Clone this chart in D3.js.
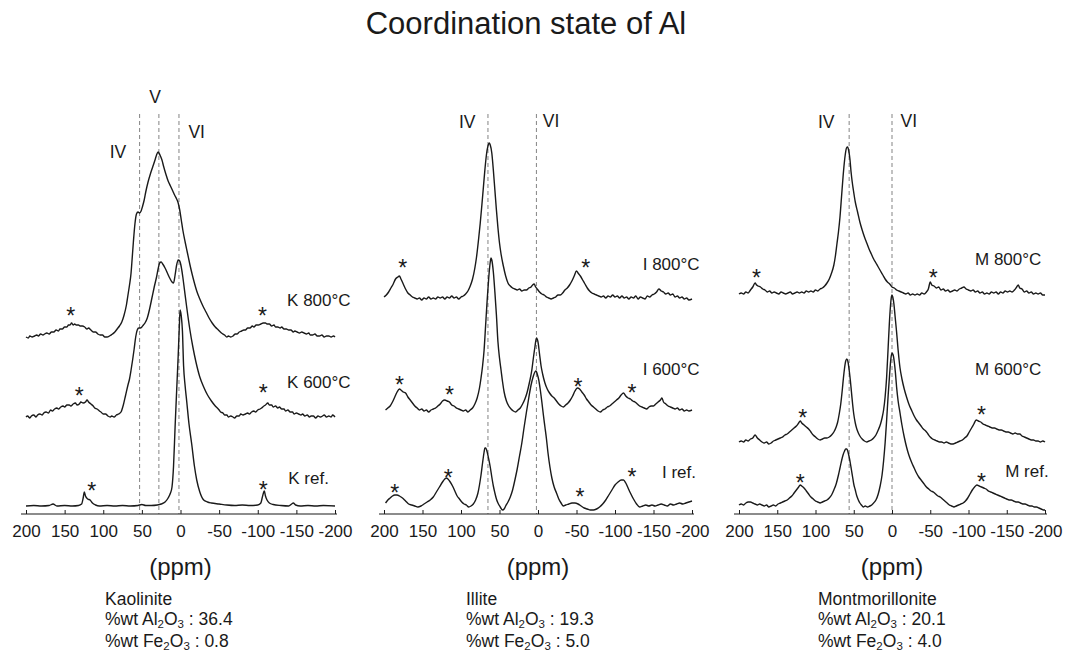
<!DOCTYPE html>
<html><head><meta charset="utf-8">
<script src="https://cdn.jsdelivr.net/npm/d3@7"></script>
<style>
body{margin:0;background:#fff}
svg{display:block}
text{font-family:"Liberation Sans",Arial,Helvetica,sans-serif;fill:#1a1a1a}
</style>
</head><body>
<svg id="chart" width="1067" height="655"></svg>
<script>
// ---------------- DATA ----------------
const title = "Coordination state of Al";
const tickValues = [200,150,100,50,0,-50,-100,-150,-200];
const axisLabel = "(ppm)";
const minerals = ["Kaolinite","Illite","Montmorillonite"];
const al2o3 = ["36.4","19.3","20.1"];
const fe2o3 = ["0.8","5.0","4.0"];
const spectrumNames = [["K 800°C","K 600°C","K ref."],["I 800°C","I 600°C","I ref."],["M 800°C","M 600°C","M ref."]];
// coordination lines (ppm) and labels
const siteLines = [[53,28,2],[65,2],[56,0]];
const siteLabels = [["IV","V","VI"],["IV","VI"],["IV","VI"]];
const siteLabelAt = [[[81,362],[33,417],[-21,382]],[[92,392],[-17,393]],[[86,392],[-22,393]]];
// stacking offsets (intensity units)
const stackOffsets = [[177,97,8],[216,104,9],[222,72,9]];
// label anchors [ppm, level]
const nameAt = [[[-138,208],[-138,126],[-139.5,30]],[[-136,244],[-136,139],[-161,36]],[[-108.5,249],[-108.5,139],[-148,37]]];
// spinning sideband markers [ppm, level]
const sidebands = [
  [[142,203],[-106,203],[131,123],[-107,126],[115,28],[-107,29]],
  [[175.7,251],[-62,251],[180,134],[115,124],[-52,132],[-122,126],[186,26],[116.5,41],[-54.5,22],[-122,42]],
  [[177,241],[-54,241],[116.7,101],[-117,104],[120,36],[-117,37]]
];

// spectra: [ppm, intensity]
const kaolinite800 = [[200,0],[197,-1],[195,1],[192,0],[189,1],[186,2],[184,1],[181,3],[178,2],[176,3],[173,4],[170,3],[167,5],[164,5],[161,7],[158,6],[156,8],[153,8],[150,10],[147,10],[145,12],[143,12],[141,14],[139,12],[137,13],[135,12],[132,12],[130,11],[127,11],[124,10],[121,8],[119,9],[116,7],[113,5],[110,5],[107,3],[104,2],[101,2],[98,0],[95,0],[92,1],[88,3],[85,5],[82,8],[79,11],[76,15],[73,22],[70,32],[68,42],[66,52],[64,64],[63,74],[61,95],[59,113],[57,123],[55,125],[53,124],[51,126],[49,131],[47,137],[45,145],[42,155],[39,163],[36,170],[33,177],[31,182],[29,185],[28,184],[26,181],[24,177],[22,171],[19,163],[16,156],[13,151],[10,146],[7,141],[5,138],[3,134],[1,127],[-1,117],[-3,107],[-6,95],[-9,84],[-12,73],[-15,63],[-18,54],[-21,46],[-25,38],[-29,31],[-33,25],[-37,19],[-41,14],[-45,10],[-49,7],[-53,4],[-57,2],[-60,0],[-62,1],[-65,0],[-68,1],[-71,3],[-73,3],[-76,5],[-79,6],[-82,7],[-84,7],[-87,9],[-90,9],[-93,11],[-95,10],[-98,12],[-101,12],[-104,13],[-107,14],[-110,14],[-112,13],[-115,13],[-118,11],[-121,12],[-123,10],[-126,10],[-129,9],[-131,10],[-134,8],[-137,8],[-140,7],[-143,7],[-146,5],[-148,6],[-151,5],[-154,4],[-157,5],[-160,4],[-163,3],[-166,4],[-168,2],[-171,2],[-174,3],[-177,1],[-180,1],[-183,2],[-186,0],[-189,1],[-192,1],[-195,0],[-198,1],[-200,0]];
const kaolinite600 = [[200,0],[198,1],[195,-1],[193,1],[190,2],[187,0],[185,2],[182,3],[179,2],[177,4],[174,5],[171,4],[168,7],[166,6],[163,8],[160,9],[158,8],[155,10],[152,11],[150,10],[147,12],[144,12],[142,11],[139,13],[136,14],[134,12],[131,13],[129,15],[126,14],[123,15],[121,17],[119,15],[116,13],[113,11],[111,9],[108,8],[105,6],[103,5],[100,3],[97,3],[94,1],[91,0],[89,1],[86,0],[83,2],[80,3],[77,5],[74,12],[71,22],[68,32],[66,38],[64,47],[62,57],[60,68],[58,80],[56,87],[54,89],[52,89],[50,90],[48,92],[46,94],[43,99],[40,108],[37,119],[34,130],[31,140],[29,148],[27,154],[25,155],[23,153],[20,149],[17,144],[14,139],[11,135],[9,134],[7,142],[5,152],[3,157],[1,156],[-1,150],[-3,140],[-5,128],[-8,110],[-12,88],[-16,70],[-20,55],[-25,40],[-30,30],[-35,22],[-40,16],[-45,11],[-50,7],[-52,5],[-55,4],[-57,2],[-60,2],[-62,0],[-65,1],[-68,0],[-70,-1],[-73,1],[-76,1],[-78,3],[-81,2],[-84,3],[-87,4],[-89,3],[-92,5],[-95,6],[-97,5],[-100,7],[-103,8],[-105,9],[-108,11],[-110,12],[-113,14],[-115,12],[-118,12],[-120,10],[-123,11],[-126,9],[-128,10],[-131,8],[-134,8],[-136,6],[-139,7],[-142,5],[-145,5],[-147,3],[-150,4],[-153,3],[-156,2],[-158,3],[-161,1],[-164,2],[-167,0],[-169,1],[-172,1],[-175,-1],[-178,1],[-181,0],[-184,1],[-186,2],[-189,0],[-192,1],[-195,0],[-197,2],[-200,0]];
const kaoliniteRef = [[200,0],[190,0.5],[180,0],[170,0.5],[165,2],[160,0],[150,0.5],[140,0],[132,0.5],[128,2],[126,8],[124.5,14],[123,10],[120,7],[117,6],[114,3],[110,1],[105,0],[95,0.5],[85,0],[75,0.5],[65,0],[55,0.5],[50,1.5],[45,0.5],[38,0.5],[30,1],[25,2],[20,4],[16,8],[13,13],[11,19],[9,40],[7,79],[5,115],[3,150],[1.5,180],[0.5,196],[-1,190],[-2.5,175],[-4,140],[-6,120],[-8,105],[-11,82],[-14.5,62],[-18,40],[-21,26],[-25,14],[-30,6],[-35,4],[-40,3],[-50,2],[-60,1],[-70,0.5],[-80,1],[-90,0.5],[-100,1],[-104,3],[-106,9],[-108.5,15],[-110,10],[-112,6],[-115,3],[-120,1.5],[-130,0.5],[-140,0],[-144,2],[-146,3],[-149,1],[-155,0],[-165,0.5],[-175,0],[-185,0.5],[-200,0]];
const illite800 = [[200,1],[197,3],[194,6],[191,10],[188,14],[185,19],[182,21],[180,22],[178,19],[175,14],[172,9],[169,5],[166,3],[163,1],[160,0],[157,-1],[154,0],[151,-2],[148,0],[145,-1],[142,1],[139,-1],[136,0],[133,-1],[130,1],[127,0],[124,1],[121,-1],[118,1],[115,0],[112,2],[109,0],[106,1],[103,-1],[100,1],[97,2],[94,4],[91,7],[88,12],[85,19],[82,30],[80,40],[77,60],[75,75],[73,92],[71,110],[69,128],[67,143],[65,152],[63.5,155],[62,153],[60,145],[58,128],[56,108],[54,88],[52,70],[50,55],[48,44],[45,32],[42,22],[39,15],[36,12],[33,10],[30,9],[27,8],[24,9],[21,7],[18,8],[15,8],[12,10],[9,11],[7,13],[5,14],[3,11],[1,9],[-2,6],[-5,4],[-8,3],[-11,1],[-14,0],[-17,-1],[-20,0],[-23,1],[-26,3],[-29,3],[-32,5],[-35,8],[-38,10],[-41,13],[-44,17],[-47,22],[-50,27],[-52,25],[-55,22],[-58,18],[-61,14],[-64,10],[-67,7],[-70,5],[-73,4],[-76,3],[-79,2],[-82,1],[-85,2],[-88,0],[-91,2],[-94,1],[-97,3],[-100,1],[-103,2],[-106,0],[-109,2],[-112,0],[-115,1],[-118,-1],[-121,1],[-124,0],[-127,2],[-130,-1],[-133,1],[-136,0],[-139,-1],[-142,2],[-145,1],[-148,3],[-151,4],[-154,6],[-157,9],[-160,7],[-163,6],[-166,4],[-169,5],[-172,3],[-175,4],[-178,1],[-181,2],[-184,0],[-187,1],[-190,-1],[-193,0],[-196,-2],[-200,-1]];
const illite600 = [[198,0],[195,2],[192,4],[189,8],[186,13],[183,18],[180,21],[178,20],[175,18],[172,17],[169,13],[166,10],[163,7],[160,4],[157,2],[154,0],[151,1],[148,-1],[145,0],[142,-2],[139,0],[136,1],[133,2],[130,4],[127,6],[124,9],[121,10],[118,9],[115,8],[112,5],[109,4],[106,2],[103,1],[100,0],[97,-1],[94,0],[91,-2],[88,0],[85,2],[82,6],[79,12],[76,22],[74,32],[72,44],[70,60],[68,85],[66,110],[64,132],[62,148],[61,152],[60,150],[58,138],[56,118],[54,95],[52,68],[50,52],[48,40],[46,28],[44,18],[41,9],[38,4],[35,1],[32,-1],[29,-2],[26,0],[23,2],[20,6],[17,11],[14,18],[11,28],[8,40],[6,52],[4,63],[2,72],[0,68],[-2,56],[-4,44],[-6,36],[-9,27],[-12,21],[-15,17],[-18,14],[-21,12],[-24,9],[-27,6],[-30,4],[-33,3],[-36,5],[-39,7],[-42,10],[-45,14],[-48,19],[-51,22],[-54,21],[-57,18],[-60,15],[-63,11],[-66,8],[-69,5],[-72,3],[-75,1],[-78,-1],[-81,-2],[-84,0],[-87,1],[-90,3],[-93,4],[-96,6],[-99,8],[-102,10],[-105,12],[-108,15],[-111,17],[-114,14],[-117,12],[-120,11],[-123,9],[-126,8],[-129,6],[-132,4],[-135,3],[-138,2],[-141,1],[-144,3],[-147,4],[-150,4],[-153,6],[-156,8],[-159,10],[-161,12],[-163,8],[-166,6],[-169,4],[-172,3],[-175,2],[-178,1],[-181,2],[-184,0],[-187,1],[-190,-1],[-193,0],[-196,-1],[-200,0]];
const illiteRef = [[198,2],[195,5],[192,7],[189,9],[186,10],[183,10],[180,9],[176,7],[172,4],[168,1],[164,0],[160,-1],[156,-2],[152,-1],[148,1],[144,3],[140,5],[136,8],[132,13],[128,18],[124,23],[121,26],[119,27],[117,26],[114,23],[111,19],[108,14],[105,9],[102,6],[99,3],[96,1],[93,0],[90,-2],[87,-1],[84,1],[81,5],[78,12],[76,20],[74,30],[72,42],[70,53],[69,57],[68,57],[66,53],[64,46],[62,38],[60,28],[58,19],[56,12],[54,6],[52,2],[49,-2],[46,-5],[44,-4],[42,-1],[39,3],[36,8],[33,15],[30,25],[27,36],[24,49],[21,62],[18,78],[15,93],[12,107],[9,120],[6,129],[4,133],[2.5,134],[1,131],[-1,125],[-3,115],[-5,103],[-7,90],[-9,78],[-11,66],[-13,52],[-15.5,38],[-18,27],[-21,18],[-24,12],[-27,6],[-30,2],[-33,-1],[-36,0],[-40,1],[-44,2],[-48,2],[-52,1],[-56,-1],[-60,-3],[-64,-4],[-68,-5],[-72,-5],[-76,-4],[-80,-2],[-84,1],[-88,5],[-92,10],[-96,15],[-100,20],[-104,23],[-108,25],[-111,25],[-114,22],[-117,17],[-120,12],[-124,6],[-128,1],[-132,-2],[-136,-1],[-140,0],[-144,-1],[-148,0],[-152,-1],[-156,0],[-160,1],[-164,0],[-168,-1],[-172,1],[-176,0],[-180,1],[-184,2],[-188,1],[-192,2],[-196,3],[-200,4]];
const montmorillonite800 = [[200,-2],[197,-1],[194,-2],[191,0],[188,-1],[185,2],[182,5],[179,9],[177,7],[175,6],[172,5],[169,3],[166,2],[163,0],[160,1],[157,-1],[154,0],[151,-1],[148,-2],[145,0],[142,-1],[139,-2],[136,-1],[133,0],[130,-2],[127,-1],[124,0],[121,-1],[118,0],[115,-1],[112,1],[109,0],[106,1],[103,0],[100,2],[97,1],[94,3],[91,4],[88,6],[85,9],[82,13],[79,19],[76,27],[74,36],[72,48],[70,60],[68,75],[66,95],[64,115],[62.5,128],[61,138],[59.5,144],[58,145],[56.5,141],[55,133],[53.5,120],[52,110],[50.5,102],[48,90],[45,80],[42,70],[39,62],[36,55],[33,49],[30,43],[27,38],[24,33],[21,29],[18,25],[15,21],[12,17],[9,13],[6,10],[3,8],[0,5],[-3,4],[-6,2],[-9,1],[-12,0],[-15,-1],[-18,-2],[-21,-1],[-24,-3],[-27,-2],[-30,-3],[-33,-2],[-36,-3],[-39,-1],[-42,-2],[-45,0],[-47.5,3],[-50,10],[-52,7],[-55,6],[-58,4],[-61,5],[-64,2],[-67,3],[-70,1],[-73,2],[-76,0],[-79,1],[-82,2],[-85,1],[-88,3],[-91,4],[-94,5],[-97,3],[-100,2],[-103,1],[-106,2],[-109,0],[-112,1],[-115,-1],[-118,0],[-121,-2],[-124,-1],[-127,-2],[-130,0],[-133,-1],[-136,0],[-139,-2],[-142,0],[-145,-1],[-148,1],[-151,0],[-154,1],[-157,0],[-160,2],[-163,5],[-165,7],[-167,4],[-170,3],[-173,0],[-176,1],[-179,-1],[-182,0],[-185,-2],[-188,-1],[-191,-2],[-194,-1],[-197,-3],[-200,-3]];
const montmorillonite600 = [[200,0],[197,1],[194,0],[191,2],[188,1],[185,3],[182,4],[179,7],[176,4],[173,2],[170,0],[167,-1],[164,0],[161,-2],[158,-1],[155,1],[152,2],[149,3],[146,4],[143,5],[140,7],[137,8],[134,10],[131,12],[128,14],[125,16],[122,19],[120,21],[118,19],[115,17],[112,15],[109,13],[106,10],[103,7],[100,5],[97,3],[94,2],[91,3],[88,4],[85,4],[82,5],[79,7],[76,10],[73,15],[71,20],[69,28],[67,38],[65,52],[63.5,64],[62,74],[60.5,81],[59,83],[57.5,80],[56,72],[54.5,62],[53,50],[51.5,38],[50,28],[48,19],[46,13],[44,9],[42,6],[39,3],[36,1],[33,0],[30,1],[27,2],[24,4],[21,7],[18,12],[15,18],[13,24],[11,32],[9,45],[7,65],[5,95],[3.5,118],[2,136],[1,144],[0,147],[-1,145],[-2.5,138],[-4,126],[-6,110],[-8,92],[-10.5,74],[-13,63],[-16,53],[-19,45],[-22,38],[-26,31],[-29,26],[-32,22],[-35,19],[-38,16],[-41,13],[-44,11],[-47,8],[-50,5],[-53,3],[-56,2],[-59,1],[-62,0],[-65,0],[-68,-1],[-71,0],[-74,-1],[-77,-2],[-80,-2],[-83,-1],[-86,0],[-89,1],[-92,2],[-95,4],[-98,6],[-101,10],[-104,14],[-107,18],[-110,22],[-113,21],[-116,20],[-119,18],[-122,17],[-125,16],[-128,15],[-131,14],[-134,14],[-137,13],[-140,12],[-143,12],[-146,11],[-149,10],[-152,10],[-155,9],[-158,8],[-161,9],[-164,8],[-167,8],[-170,6],[-173,5],[-176,4],[-179,3],[-182,2],[-185,2],[-188,1],[-191,1],[-194,0],[-197,1],[-200,0]];
const montmorilloniteRef = [[200,0],[197,1],[194,0],[191,2],[188,3],[185,3],[182,2],[179,1],[176,0],[173,1],[170,0],[167,-1],[164,0],[161,-2],[158,-1],[155,0],[152,-1],[149,1],[146,2],[143,3],[140,4],[137,5],[134,7],[131,9],[128,12],[125,15],[122,18],[120,20],[118,19],[115,17],[112,14],[109,11],[106,8],[103,6],[100,4],[97,3],[94,2],[91,3],[88,4],[85,5],[82,7],[79,10],[76,15],[73,21],[70,30],[68,37],[66,44],[64,50],[62,54],[60.5,56],[59,56],[57.5,53],[56,48],[54.5,42],[53,35],[51.5,28],[50,21],[48,15],[46,9],[44,5],[42,2],[40,0],[37.5,-2],[35,-1],[32,-2],[29,-1],[26.5,0],[24,2],[21,5],[18,11],[15.5,19],[13,30],[11,44],[9,62],[7,85],[5,110],[3,132],[1.5,146],[0,152],[-1.5,150],[-3,143],[-4.5,132],[-6,118],[-8,104],[-10.5,92],[-13,80],[-16,68],[-19,58],[-22,50],[-26,42],[-29,37],[-32,32],[-35,28],[-38,25],[-41,22],[-45,18],[-48,16],[-51,14],[-54,13],[-57,11],[-60,9],[-63,8],[-66,6],[-69,4],[-72,2],[-75,0],[-78,-1],[-81,-2],[-84,-1],[-87,0],[-90,1],[-93,2],[-96,4],[-99,7],[-102,11],[-105,15],[-108,18],[-111,20],[-114,19],[-117,18],[-120,17],[-123,16],[-126,14],[-129,13],[-132,12],[-135,11],[-138,10],[-141,9],[-144,8],[-147,7],[-150,6],[-153,5],[-156,5],[-159,4],[-162,3],[-165,3],[-168,2],[-171,1],[-174,1],[-177,0],[-180,-1],[-183,-1],[-186,-2],[-189,-2],[-192,-3],[-195,-4],[-198,-5],[-200,-5]];

const spectra = [
  [kaolinite800, kaolinite600, kaoliniteRef],
  [illite800, illite600, illiteRef],
  [montmorillonite800, montmorillonite600, montmorilloniteRef]
];

// ---------------- LAYOUT ----------------
const W = 1067, H = 655;
const axisY = 514, topY = 114;
const panelRanges = [[26,335],[384,692],[739,1045]];
const textLeft = [105,466,818];
const ink = "#1a1a1a";

const svg = d3.select("#chart");
svg.append("rect").attr("width",W).attr("height",H).attr("fill","#fff");

svg.append("text").attr("x",526).attr("y",34).attr("text-anchor","middle")
  .attr("font-size",31).text(title);

const y = d3.scaleLinear().domain([0,400]).range([axisY, topY]);

minerals.forEach((name, i) => {
  const [x0, x1] = panelRanges[i];
  const x = d3.scaleLinear().domain([200,-200]).range([x0, x1]);
  const g = svg.append("g");

  // dashed coordination lines
  g.selectAll("line.site").data(siteLines[i]).join("line")
    .attr("x1", d => x(d)).attr("x2", d => x(d))
    .attr("y1", topY).attr("y2", axisY)
    .attr("stroke","#8f8f8f").attr("stroke-width",1.1)
    .attr("stroke-dasharray","4,3");

  // site labels
  g.selectAll("text.site").data(siteLabels[i]).join("text")
    .attr("x",(d,k)=>x(siteLabelAt[i][k][0]))
    .attr("y",(d,k)=>y(siteLabelAt[i][k][1]) + 6)
    .attr("text-anchor","middle").attr("font-size",17.5).text(d=>d);

  // spectra
  const line = d3.line().curve(d3.curveMonotoneX);
  spectra[i].forEach((s, k) => {
    const off = stackOffsets[i][k];
    g.append("path")
      .attr("d", line.x(d => x(d[0])).y(d => y(d[1] + off))(s))
      .attr("fill","none").attr("stroke",ink).attr("stroke-width",1.4)
      .attr("stroke-linejoin","round");
    const [lp, ll] = nameAt[i][k];
    g.append("text").attr("x", x(lp)).attr("y", y(ll))
      .attr("font-size",17).text(spectrumNames[i][k]);
  });

  // sideband asterisks
  g.selectAll("text.sb").data(sidebands[i]).join("text")
    .attr("x", d => x(d[0])).attr("y", d => y(d[1]) + 13)
    .attr("text-anchor","middle").attr("font-size",23).attr("fill","#666")
    .text("*");

  // axis
  const ax = d3.axisBottom(x).tickValues(tickValues).tickSizeInner(-4).tickSizeOuter(0)
    .tickPadding(11).tickFormat(d => String(d));
  const axg = g.append("g").attr("transform",`translate(0,${axisY})`).call(ax);
  axg.select(".domain").remove();
  axg.selectAll(".tick line").attr("stroke",ink).attr("stroke-width",1);
  axg.selectAll(".tick text").attr("font-size",17).attr("fill",ink)
    .attr("font-family",'"Liberation Sans",Arial,sans-serif');
  g.append("line").attr("x1",x0-5).attr("x2",x1+2).attr("y1",axisY).attr("y2",axisY)
    .attr("stroke",ink).attr("stroke-width",1.2);

  // axis title
  g.append("text").attr("x",(x0+x1)/2).attr("y",575).attr("text-anchor","middle")
    .attr("font-size",24).text(axisLabel);

  // composition text
  const tx = textLeft[i];
  g.append("text").attr("x",tx).attr("y",605).attr("font-size",17.5).text(name);
  [["%wt Al", al2o3[i], 625], ["%wt Fe", fe2o3[i], 646.5]].forEach(([pre, val, yy]) => {
    const t = g.append("text").attr("x",tx).attr("y",yy).attr("font-size",17.5);
    t.append("tspan").text(pre);
    t.append("tspan").attr("font-size",11.5).attr("dy",3).text("2");
    t.append("tspan").attr("dy",-3).text("O");
    t.append("tspan").attr("font-size",11.5).attr("dy",3).text("3");
    t.append("tspan").attr("dy",-3).text(" : " + val);
  });
});
</script>
</body></html>
